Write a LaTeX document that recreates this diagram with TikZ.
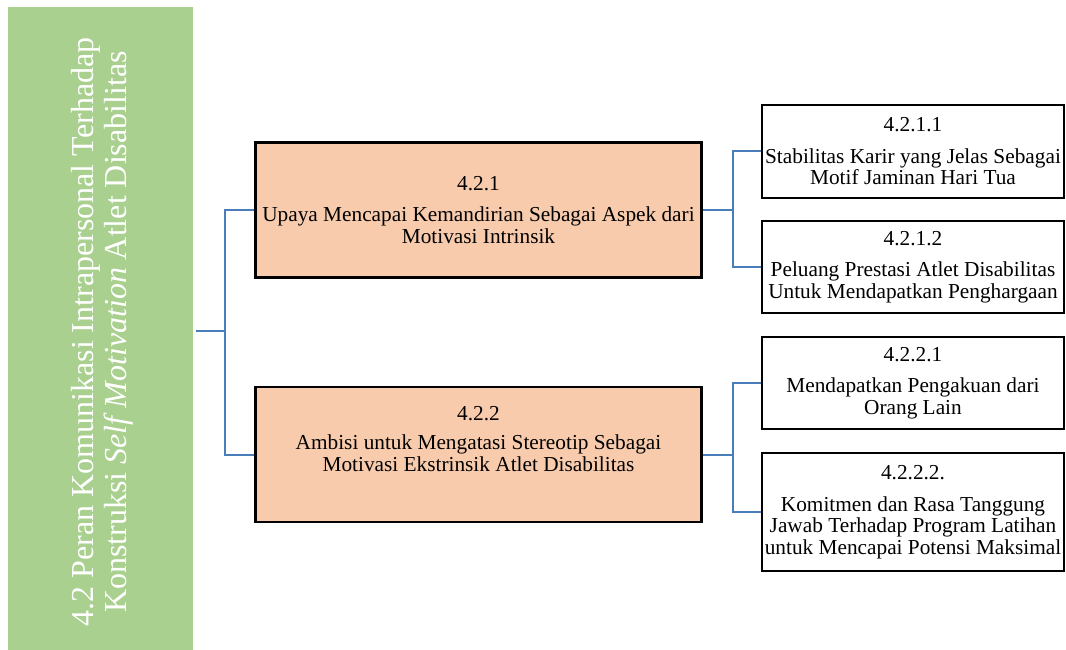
\documentclass[tikz,border=0pt]{standalone}
\usepackage{fontspec}
\setmainfont{Liberation Serif}
\definecolor{sidegreen}{HTML}{A9D08E}
\definecolor{peach}{HTML}{F8CBAD}
\definecolor{linkblue}{HTML}{4A7EBB}
\tikzset{
  mainbox/.style={draw=black, line width=2.5pt, fill=peach, minimum width=446pt, minimum height=135pt, inner sep=0pt},
  subbox/.style={draw=black, line width=2pt, fill=white, minimum width=302pt, inner sep=0pt},
  boxtext/.style={align=center, font=\fontsize{21.3}{21.5}\selectfont, inner sep=0pt},
  link/.style={draw=linkblue, line width=2pt},
}
\begin{document}
\begin{tikzpicture}[x=1pt, y=-1pt]
\useasboundingbox (0,0) rectangle (1066,650);
% side panel
\node[fill=sidegreen, minimum width=185pt, minimum height=645pt, inner sep=0pt, anchor=north west] (side) at (8,7) {};
\node[rotate=90, align=center, text=white, font=\fontsize{32}{33}\selectfont, inner sep=0pt] (sidetext) at (102,332)
  {4.2 Peran Komunikasi Intrapersonal Terhadap\\ Konstruksi \textit{Self Motivation} Atlet Disabilitas};
% main boxes
\node[mainbox] (b1) at (478.5,210) {};
\node[boxtext] (t1) at (478.5,210) {4.2.1\\[10pt]Upaya Mencapai Kemandirian Sebagai Aspek dari\\Motivasi Intrinsik};
\node[mainbox] (b2) at (478.5,454.5) {};
\node[boxtext] (t2) at (478.5,439) {4.2.2\\[8pt]Ambisi untuk Mengatasi Stereotip Sebagai\\Motivasi Ekstrinsik Atlet Disabilitas};
% sub boxes
\node[subbox, minimum height=93pt] (s11) at (913,151.5) {};
\node[boxtext] at (913,151.5) {4.2.1.1\\[10pt]Stabilitas Karir yang Jelas Sebagai\\Motif Jaminan Hari Tua};
\node[subbox, minimum height=92pt] (s12) at (913,267) {};
\node[boxtext] at (913,267) {4.2.1.2\\[10pt]Peluang Prestasi Atlet Disabilitas\\Untuk Mendapatkan Penghargaan};
\node[subbox, minimum height=92pt] (s21) at (913,383) {};
\node[boxtext] at (913,383) {4.2.2.1\\[10pt]Mendapatkan Pengakuan dari\\Orang Lain};
\node[subbox, minimum height=118pt] (s22) at (913,512) {};
\node[boxtext] at (913,512) {4.2.2.2.\\[10pt]Komitmen dan Rasa Tanggung\\Jawab Terhadap Program Latihan\\untuk Mencapai Potensi Maksimal};
% connectors
\coordinate (j0) at (225,331);
\draw[link] (196,331) -- (j0);
\draw[link] (b1.west) -| (j0) |- (b2.west);
\draw[link] (b1.east) -- ++(30,0) coordinate (j1);
\draw[link] (s11.west) -| (j1) |- (s12.west);
\draw[link] (b2.east) -- ++(30,0) coordinate (j2);
\draw[link] (s21.west) -| (j2) |- (s22.west);
\end{tikzpicture}
\end{document}
